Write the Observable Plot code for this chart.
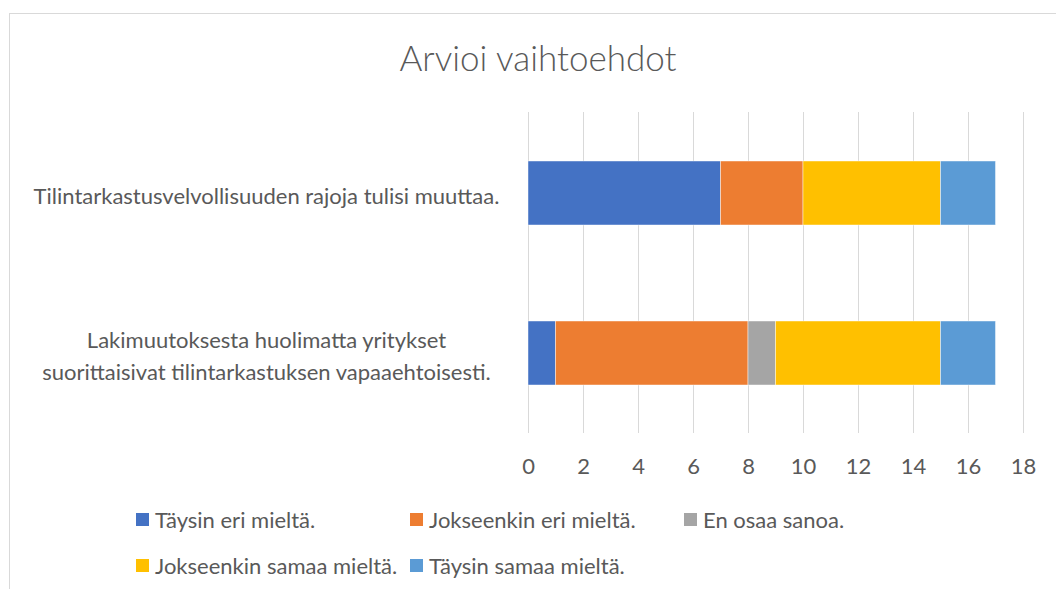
<!DOCTYPE html>
<html>
<head>
<meta charset="utf-8">
<script src="https://cdn.jsdelivr.net/npm/d3@7"></script>
<script src="https://cdn.jsdelivr.net/npm/@observablehq/plot@0.6"></script>
<style>
  html, body { margin: 0; padding: 0; background: #fff; overflow: hidden; }
  body { width: 1056px; height: 589px; position: relative; font-family: Lato, "Open Sans", sans-serif; color: #595959; }
  #frame { position: absolute; left: 9px; top: 13px; width: 1200px; height: 800px; border: 1px solid #d9d9d9; box-sizing: border-box; }
  #chart { position: absolute; left: 0; top: 0; width: 1056px; }
  #title { height: 100px; padding-top: 36px; box-sizing: border-box; font-size: 35px; line-height: 42px; font-weight: 300; text-align: center; padding-left: 20px; }
  #legend { padding-top: 6px; padding-left: 136px; font-size: 22px; }
  .row { height: 46px; display: flex; align-items: center; }
  .item { display: inline-flex; align-items: center; white-space: nowrap; flex-shrink: 0; }
  .sw { width: 13px; height: 13px; margin-right: 6px; display: inline-block; flex-shrink: 0; }
</style>
</head>
<body>
<div id="frame"></div>
<div id="chart">
  <div id="title">Arvioi vaihtoehdot</div>
  <div id="plot"></div>
  <div id="legend"></div>
</div>
<script>
const categories = [
  "Tilintarkastusvelvollisuuden rajoja tulisi muuttaa.",
  "Lakimuutoksesta huolimatta yritykset suorittaisivat tilintarkastuksen vapaaehtoisesti."
];
const categoryLabels = [
  "Tilintarkastusvelvollisuuden rajoja tulisi muuttaa.",
  "Lakimuutoksesta huolimatta yritykset\nsuorittaisivat tilintarkastuksen vapaaehtoisesti."
];
const seriesNames = [
  "Täysin eri mieltä.",
  "Jokseenkin eri mieltä.",
  "En osaa sanoa.",
  "Jokseenkin samaa mieltä.",
  "Täysin samaa mieltä."
];
const taysinEri = [7, 1];
const jokseenkinEri = [3, 7];
const enOsaa = [0, 1];
const jokseenkinSamaa = [5, 6];
const taysinSamaa = [2, 2];
const seriesColors = ["#4472C4", "#ED7D31", "#A5A5A5", "#FFC000", "#5B9BD5"];
const xTicks = [0, 2, 4, 6, 8, 10, 12, 14, 16, 18];

const seriesValues = [taysinEri, jokseenkinEri, enOsaa, jokseenkinSamaa, taysinSamaa];
const rows = [];
seriesNames.forEach((s, i) => {
  categories.forEach((c, j) => rows.push({series: s, category: c, value: seriesValues[i][j]}));
});
const labelOf = new Map(categories.map((c, i) => [c, categoryLabels[i]]));

const chart = Plot.plot({
  width: 1056,
  height: 390,
  marginTop: 12,
  marginBottom: 57,
  marginLeft: 528,
  marginRight: 33,
  style: {fontFamily: "Lato, 'Open Sans', sans-serif", fontSize: "22px", color: "#595959", background: "transparent"},
  x: {domain: [0, 18]},
  y: {domain: categories, paddingInner: 0.6, paddingOuter: 0.3},
  color: {domain: seriesNames, range: seriesColors},
  marks: [
    Plot.gridX(xTicks, {stroke: "#d9d9d9", strokeOpacity: 1, strokeWidth: 1}),
    Plot.barX(rows, Plot.stackX({x: "value", y: "category", fill: "series", order: seriesNames, stroke: "#ffffff", strokeWidth: 0.75, strokeOpacity: 0.6})),
    Plot.axisX({ticks: xTicks, tickSize: 0, tickPadding: 25, label: null}),
    Plot.axisY({tickSize: 0, tickPadding: 262, textAnchor: "middle", lineHeight: 1.45, tickFormat: d => labelOf.get(d), label: null})
  ]
});
document.getElementById("plot").appendChild(chart);

const legend = document.getElementById("legend");
const layout = [[0, 1, 2], [3, 4]];
layout.forEach(idx => {
  const row = document.createElement("div");
  row.className = "row";
  idx.forEach((k, pos) => {
    const it = document.createElement("span");
    it.className = "item";
    if (pos < idx.length - 1) it.style.width = "274px";
    const sw = document.createElement("span");
    sw.className = "sw";
    sw.style.background = seriesColors[k];
    it.appendChild(sw);
    it.appendChild(document.createTextNode(seriesNames[k]));
    row.appendChild(it);
  });
  legend.appendChild(row);
});
</script>
</body>
</html>
